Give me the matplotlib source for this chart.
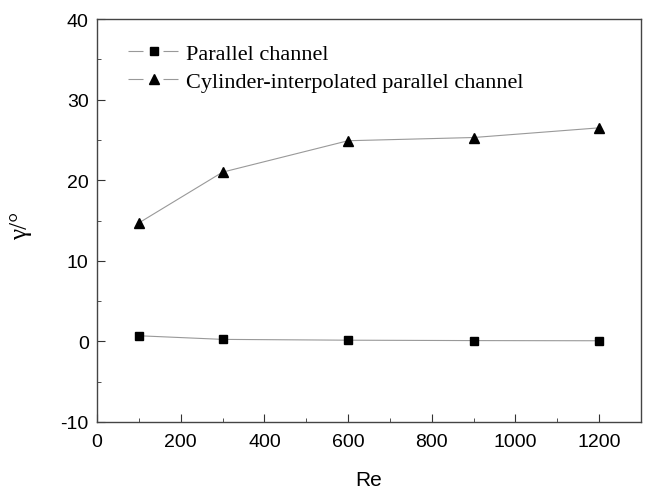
import matplotlib
matplotlib.use('Agg')
import matplotlib.pyplot as plt
from matplotlib.lines import Line2D
from matplotlib.ticker import MultipleLocator

re_vals = [100, 300, 600, 900, 1200]
parallel = [0.7, 0.25, 0.15, 0.1, 0.08]
cylinder = [14.7, 21.0, 24.9, 25.3, 26.5]

plt.rcParams['font.family'] = 'Liberation Sans'
plt.rcParams['axes.unicode_minus'] = False

fig = plt.figure(figsize=(6.51, 4.89), dpi=100)
ax = fig.add_axes([0.149, 0.135, 0.8356, 0.824])

ax.plot(re_vals, parallel, color='#999999', lw=0.8, marker='s', ms=5.5,
        mfc='black', mec='black')
ax.plot(re_vals, cylinder, color='#999999', lw=0.8, marker='^', ms=7.5,
        mfc='black', mec='black')

ax.set_xlim(0, 1300)
ax.set_ylim(-10, 40)
ax.xaxis.set_major_locator(MultipleLocator(200))
ax.xaxis.set_minor_locator(MultipleLocator(100))
ax.yaxis.set_major_locator(MultipleLocator(10))
ax.yaxis.set_minor_locator(MultipleLocator(5))
ax.tick_params(which='both', direction='in', labelsize=14, top=False, right=False,
               color='#333333')
ax.tick_params(axis='x', which='major', length=6, pad=8)
ax.tick_params(axis='y', which='major', length=6, pad=6)
ax.tick_params(which='minor', length=3)
for s in ax.spines.values():
    s.set_linewidth(1.0)
    s.set_color('#444444')

ax.set_xlabel('Re', fontsize=15, labelpad=14)
ax.set_ylabel('γ/°', fontsize=18, family='Liberation Serif')
ax.yaxis.set_label_coords(-0.12, 0.49)

# legend handles: line with a gap around the marker
gap = (0, (10.8 / 0.8, 14.4 / 0.8))
h1 = Line2D([], [], color='#999999', lw=0.8, ls=gap, marker='s', ms=5.5,
            mfc='black', mec='black')
h2 = Line2D([], [], color='#999999', lw=0.8, ls=gap, marker='^', ms=7.5,
            mfc='black', mec='black')
ax.legend([h1, h2], ['Parallel channel', 'Cylinder-interpolated parallel channel'],
          loc='upper left', frameon=False, bbox_to_anchor=(0.057, 0.94),
          borderaxespad=0, borderpad=0, prop={'family': 'Liberation Serif', 'size': 16},
          handlelength=2.3, handletextpad=0.32, labelspacing=0.35)

fig.savefig('out.png', dpi=100)
